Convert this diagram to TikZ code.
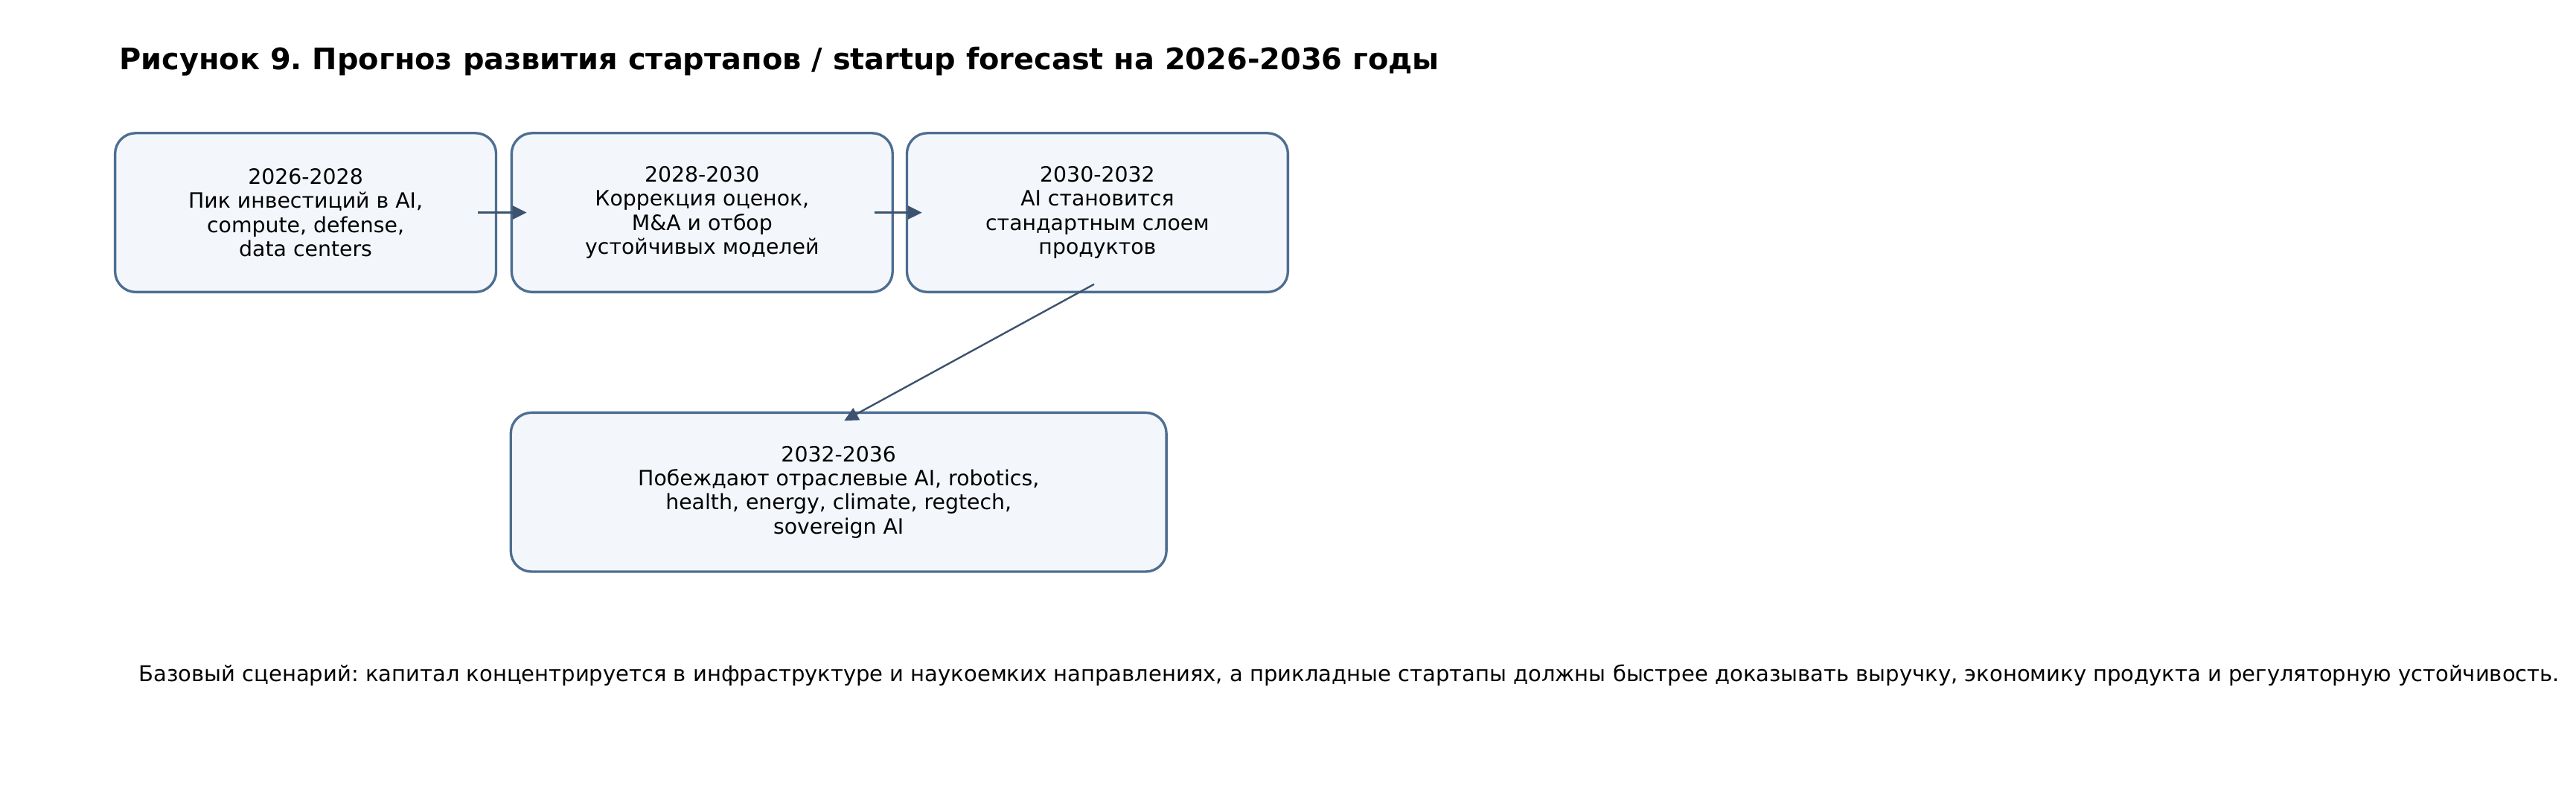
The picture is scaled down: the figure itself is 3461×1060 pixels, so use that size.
\documentclass[tikz,border=0pt]{standalone}
\usepackage{fontspec}
\setmainfont{DejaVu Sans}
\usetikzlibrary{arrows.meta}
\definecolor{bordercol}{HTML}{4E6E91}
\definecolor{fillcol}{HTML}{F3F6FB}
\definecolor{arrowcol}{HTML}{3C526E}
\frenchspacing
\tikzset{
  stagebox/.style={draw=bordercol, fill=fillcol, line width=1.2pt, rounded corners=10pt,
    minimum width=184.3pt, minimum height=76.9pt, align=center, inner sep=0pt,
    font=\fontsize{10.2}{11.66}\selectfont},
  widebox/.style={stagebox, minimum width=317.1pt},
  flow/.style={draw=arrowcol, line width=0.86pt, -{Triangle[length=6.8pt,width=6.5pt]}},
  titletext/.style={anchor=base west, inner sep=0pt, font=\fontsize{14.35}{17}\selectfont\bfseries},
  notetext/.style={anchor=base west, inner sep=0pt, font=\fontsize{10.45}{12.5}\selectfont}
}
\begin{document}
\begin{tikzpicture}[x=0.36pt,y=-0.36pt]
\useasboundingbox[fill=white] (0,0) rectangle (3461,1060);
\node[titletext] (title) at (160,94) {Рисунок 9. Прогноз развития стартапов / startup forecast на 2026-2036 годы};
\node[stagebox] (b1) at (410.6,285.6) {2026-2028\\Пик инвестиций в AI,\\compute, defense,\\data centers};
\node[stagebox] (b2) at (943.3,285.6) {2028-2030\\Коррекция оценок,\\M\&A и отбор\\устойчивых моделей};
\node[stagebox] (b3) at (1474.4,285.6) {2030-2032\\AI становится\\стандартным слоем\\продуктов};
\node[widebox] (b4) at (1126.7,661.2) {2032-2036\\Побеждают отраслевые AI, robotics,\\health, energy, climate, regtech,\\sovereign AI};
\draw[flow] ([xshift=-9.4pt]b1.east) -- ([xshift=7.9pt]b2.west);
\draw[flow] ([xshift=-9.4pt]b2.east) -- ([xshift=7.9pt]b3.west);
\draw[flow] ([xshift=-1.6pt,yshift=4.4pt]b3.south) -- ([xshift=2.7pt,yshift=-4.5pt]b4.north);
\node[notetext] (note) at (186,915.7) {Базовый сценарий: капитал концентрируется в инфраструктуре и наукоемких направлениях, а прикладные стартапы должны быстрее доказывать выручку, экономику продукта и регуляторную устойчивость.};
\end{tikzpicture}
\end{document}
